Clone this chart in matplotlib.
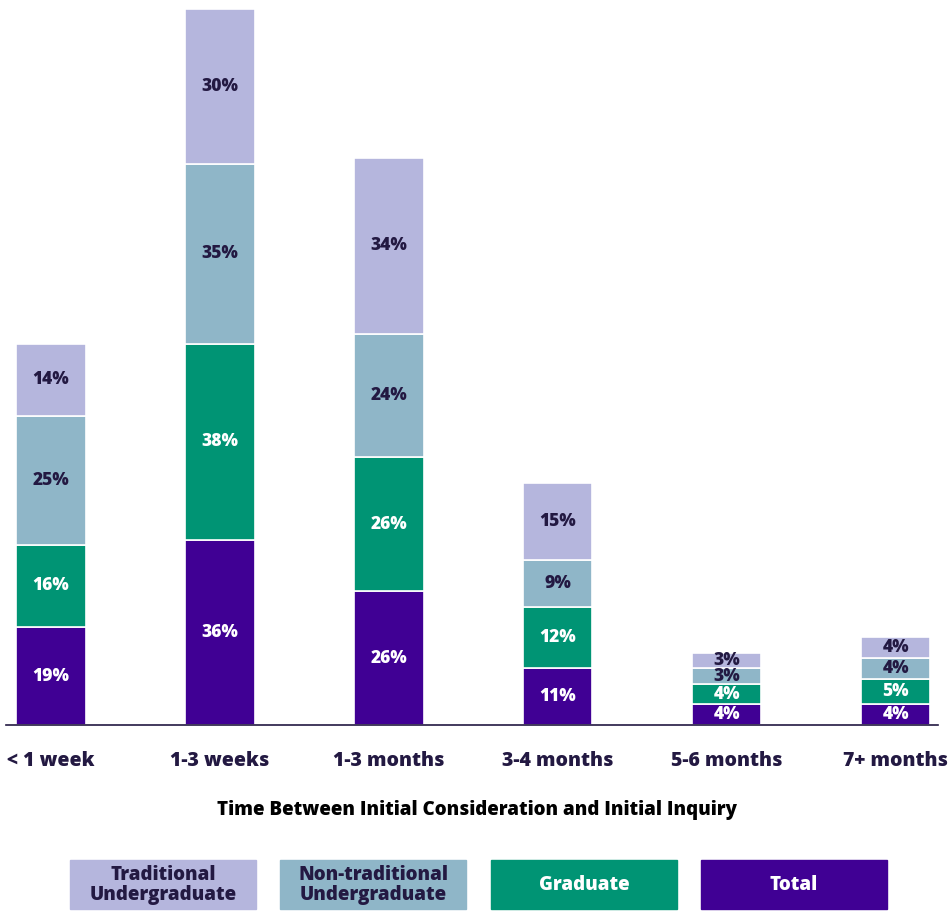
import matplotlib
matplotlib.use("Agg")
import matplotlib.pyplot as plt
from matplotlib.patches import Rectangle

plt.rcParams['font.family'] = ['Open Sans', 'DejaVu Sans']

categories = ['< 1 week', '1-3 weeks', '1-3 months', '3-4 months', '5-6 months', '7+ months']
total = [19, 36, 26, 11, 4, 4]
graduate = [16, 38, 26, 12, 4, 5]
nontrad_ug = [25, 35, 24, 9, 3, 4]
trad_ug = [14, 30, 34, 15, 3, 4]

series = [
    ('Total', total, '#400094', 'white'),
    ('Graduate', graduate, '#009474', 'white'),
    ('Non-traditional\nUndergraduate', nontrad_ug, '#8fb6c8', '#231942'),
    ('Traditional\nUndergraduate', trad_ug, '#b5b6dd', '#231942'),
]

W, H = 949, 911
fig = plt.figure(figsize=(W / 100, H / 100), dpi=100)
ax = fig.add_axes([6 / W, 186 / H, 932 / W, 717 / H])

x = range(len(categories))
bottom = [0] * len(categories)
for name, vals, color, tcolor in series:
    bars = ax.bar(x, vals, width=0.41, bottom=bottom, color=color,
                  edgecolor='white', linewidth=1.2)
    for b, v in zip(bars, vals):
        ax.text(b.get_x() + b.get_width() / 2, b.get_y() + b.get_height() / 2,
                f'{v}%', ha='center', va='center', color=tcolor,
                fontsize=12.5, fontweight=800)
    bottom = [a + b for a, b in zip(bottom, vals)]

ax.set_xlim(-0.266, 5.25)
ax.set_ylim(0, 139.2)
for s in ['top', 'right', 'left']:
    ax.spines[s].set_visible(False)
ax.spines['bottom'].set_color('#231942')
ax.spines['bottom'].set_linewidth(1.2)
ax.set_yticks([])
ax.set_xticks(list(x))
ax.set_xticklabels(categories, fontsize=14, fontweight=800, color='#231942')
ax.tick_params(axis='x', length=0, pad=19)

fig.text(477 / W, 1 - 810 / H, 'Time Between Initial Consideration and Initial Inquiry',
         ha='center', va='center', fontsize=13.5, fontweight=800, color='black')

# legend boxes along the bottom
legend_items = [
    ('Traditional\nUndergraduate', '#b5b6dd', '#231942'),
    ('Non-traditional\nUndergraduate', '#8fb6c8', '#231942'),
    ('Graduate', '#009474', 'white'),
    ('Total', '#400094', 'white'),
]
lefts = [70, 280, 491, 701]
for (label, color, tcolor), lx in zip(legend_items, lefts):
    fig.patches.append(Rectangle((lx / W, 1 - 909 / H), 186 / W, 49 / H,
                                 transform=fig.transFigure, color=color))
    fig.text((lx + 93) / W, 1 - 885 / H, label, ha='center', va='center',
             fontsize=13.5, fontweight=800, color=tcolor, linespacing=1.0)

fig.savefig('out.png', dpi=100)
